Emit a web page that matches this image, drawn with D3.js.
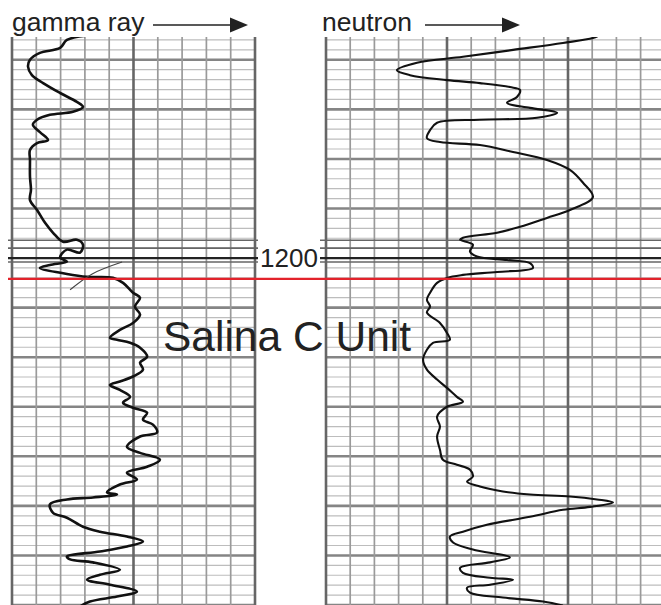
<!DOCTYPE html>
<html>
<head>
<meta charset="utf-8">
<script src="https://cdn.jsdelivr.net/npm/d3@7"></script>
<style>
  body { margin: 0; background: #fff; }
  svg { display: block; font-family: "Liberation Sans", Arial, sans-serif; }
</style>
</head>
<body>
<svg id="chart" width="661" height="605"></svg>
<script>
// depth in feet, track values in % of track width (10 divisions)
const depthRange = [1155.4, 1270];
const markerDepth = 1200;
const salinaTop = 1204.2;
const heavyDepths = [1196.4, 1198, 1200, 1200.8];

// gamma ray curve: [value, depth]
const gammaRay = [
  [33,1155.0],[22.6,1156.0],[19.8,1157.6],[11.5,1158.6],[7.4,1160.0],[6.6,1161.4],
  [8.2,1163.1],[12.8,1164.7],[19.8,1166.7],[26.7,1168.5],[29.2,1169.5],[25.1,1170.5],
  [15.6,1171.1],[10.3,1172.1],[8.6,1173.1],[11.5,1174.6],[14.8,1176.2],[10.3,1176.8],
  [7.4,1178.2],[7.4,1180.2],[7.4,1183.6],[7.8,1186.2],[7.4,1188.3],[10.3,1190.3],
  [13.6,1192.9],[16.9,1194.9],[21.0,1196.7],[26.7,1196.3],[29.2,1197.3],[28.0,1198.9],
  [22.6,1198.3],[19.8,1199.9],[22.6,1200.7],[15.6,1201.4],[11.5,1202.0],[22.6,1203.2],
  [30.9,1203.8],[41.6,1204.0],[45.7,1205.0],[49.8,1207.0],[52.7,1208.0],[50.6,1209.8],
  [52.7,1211.4],[49.8,1213.1],[44.4,1214.5],[40.3,1216.1],[43.2,1216.5],[48.6,1217.1],
  [52.7,1218.1],[55.6,1219.9],[52.7,1221.1],[53.9,1222.5],[49.8,1223.9],[44.4,1224.9],
  [40.3,1225.6],[44.4,1226.6],[48.6,1228.0],[45.7,1229.2],[49.8,1230.2],[55.6,1231.2],
  [53.9,1232.6],[58.0,1233.6],[59.7,1235.2],[52.7,1236.0],[47.3,1238.1],[52.7,1239.3],
  [60.9,1240.7],[55.6,1242.1],[47.3,1243.3],[51.4,1244.7],[44.4,1245.7],[39.1,1247.3],
  [43.2,1247.7],[33.3,1248.3],[22.6,1248.7],[15.6,1249.7],[16.9,1251.4],[22.6,1252.4],
  [29.2,1254.2],[36.2,1255.2],[47.3,1256.2],[53.9,1257.2],[47.3,1258.2],[36.2,1259.2],
  [22.6,1260.2],[23.9,1260.8],[33.3,1261.4],[44.4,1262.9],[36.2,1263.9],[30.9,1264.9],
  [40.3,1265.9],[51.4,1267.3],[43.2,1268.3],[32.1,1269.3],[28.0,1270.3]
];

// thin stray trace crossing the gamma track near 1200 ft
const gammaStray = [[45.3,1200.8],[33,1203.2],[23.9,1206.4]];

// neutron curve: [value, depth]
const neutron = [
  [113.2,1155.0],[110.3,1155.6],[97.9,1156.6],[77.3,1158.0],[56.6,1159.4],[37.6,1160.6],
  [29.3,1162.1],[34.7,1163.1],[50.0,1164.1],[63.6,1164.7],[76.0,1165.5],[80.2,1166.1],
  [78.9,1167.5],[74.8,1168.7],[84.3,1169.7],[95.5,1170.7],[87.2,1171.7],[63.6,1172.1],
  [45.9,1172.7],[43.0,1174.2],[41.7,1175.8],[47.1,1176.6],[63.6,1177.2],[77.3,1178.6],
  [91.3,1180.2],[100.8,1182.2],[106.2,1184.8],[110.3,1187.7],[100.8,1190.3],[91.3,1191.9],
  [80.2,1193.7],[70.7,1194.9],[56.6,1195.9],[55.4,1196.3],[60.7,1197.3],[59.5,1198.7],
  [62.4,1199.7],[74.8,1200.4],[84.3,1201.0],[85.5,1202.0],[70.7,1202.8],[56.6,1203.4],
  [50.0,1204.0],[45.9,1205.0],[43.0,1207.0],[41.7,1208.4],[43.0,1209.8],[41.7,1211.0],
  [47.1,1213.1],[50.0,1215.1],[51.2,1216.5],[44.2,1217.1],[41.7,1218.5],[40.1,1220.5],
  [41.7,1222.5],[45.9,1224.5],[50.0,1226.2],[54.1,1228.0],[56.6,1229.0],[50.0,1230.0],
  [45.9,1232.0],[47.1,1234.0],[45.9,1236.0],[47.1,1238.7],[48.3,1240.7],[54.1,1241.7],
  [59.5,1242.7],[60.7,1244.1],[58.3,1245.1],[63.6,1246.1],[73.1,1247.1],[84.3,1247.7],
  [100.8,1248.1],[112.0,1248.7],[118.6,1249.3],[109.1,1250.2],[97.9,1250.8],[84.3,1252.2],
  [66.5,1253.8],[56.6,1255.2],[51.2,1256.2],[52.5,1257.4],[60.7,1258.8],[76.0,1260.4],
  [67.8,1261.4],[55.4,1262.5],[56.6,1263.5],[67.8,1264.5],[77.3,1264.9],[67.8,1265.9],
  [58.3,1266.5],[59.5,1267.5],[73.1,1268.5],[89.7,1269.3],[97.9,1270.1]
];

const trackTitles = ["gamma ray", "neutron"];
const unitLabel = "Salina C Unit";

const svg = d3.select("#chart");
const y = d3.scaleLinear().domain(depthRange).range([37, 605]);
const xGamma = d3.scaleLinear().domain([0, 100]).range([12, 255]);
const xNeutron = d3.scaleLinear().domain([0, 100]).range([326, 568]);

const tracks = [
  { x: xGamma, left: 12, right: 255, ticks: d3.range(0, 101, 10), data: gammaRay, width: 2.6 },
  { x: xNeutron, left: 326, right: 661, ticks: d3.range(0, 140, 10), data: neutron, width: 2.1 }
];

const minorDepths = d3.range(1156, 1271, 2).filter(d => d % 10 !== 0);
const majorDepths = d3.range(1160, 1271, 10);

tracks.forEach((t, i) => {
  const g = svg.append("g");
  const clipId = "clip" + i;
  svg.append("clipPath").attr("id", clipId)
    .append("rect").attr("x", t.left - 1).attr("y", y(depthRange[0]))
    .attr("width", t.right - t.left + 2).attr("height", 605 - y(depthRange[0]));

  // horizontal grid
  g.selectAll(".hmin").data(minorDepths).join("line")
    .attr("x1", t.left).attr("x2", t.right)
    .attr("y1", d => y(d)).attr("y2", d => y(d))
    .attr("stroke", "#bdbdbd").attr("stroke-width", 1.2);
  g.selectAll(".hmaj").data(majorDepths.filter(d => d !== markerDepth)).join("line")
    .attr("x1", t.left).attr("x2", t.right)
    .attr("y1", d => y(d)).attr("y2", d => y(d))
    .attr("stroke", "#858585").attr("stroke-width", 2.6);

  // vertical grid
  g.selectAll(".v").data(t.ticks).join("line")
    .attr("x1", d => t.x(d)).attr("x2", d => t.x(d))
    .attr("y1", y(depthRange[0])).attr("y2", 605)
    .attr("stroke", d => d % 50 === 0 ? "#666" : "#9a9a9a")
    .attr("stroke-width", d => d % 50 === 0 ? 2.6 : 1.7);

  // heavy lines around 1200 ft
  g.selectAll(".heavy").data(heavyDepths).join("line")
    .attr("x1", i === 0 ? 8 : 320).attr("x2", i === 0 ? 258 : 661)
    .attr("y1", d => y(d)).attr("y2", d => y(d))
    .attr("stroke", d => d === markerDepth ? "#222" : "#666")
    .attr("stroke-width", d => d === markerDepth ? 2.2 : 1.6);

  const line = d3.line()
    .x(d => t.x(d[0])).y(d => y(d[1]))
    .curve(d3.curveCatmullRom.alpha(0.5));
  g.append("path").datum(t.data)
    .attr("clip-path", `url(#${clipId})`)
    .attr("d", line)
    .attr("fill", "none").attr("stroke", "#111")
    .attr("stroke-width", t.width).attr("stroke-linejoin", "round");

  if (i === 0) {
    g.append("path").datum(gammaStray)
      .attr("d", line)
      .attr("fill", "none").attr("stroke", "#444").attr("stroke-width", 1.1);
  }
});

// titles with arrows
const arrows = [
  { text: trackTitles[0], x: 12, x1: 153, x2: 248 },
  { text: trackTitles[1], x: 322, x2: 520, x1: 425 }
];
arrows.forEach(a => {
  svg.append("text").attr("x", a.x).attr("y", 31)
    .attr("font-size", 26.5).attr("fill", "#222").text(a.text);
  svg.append("line").attr("x1", a.x1).attr("x2", a.x2 - 14)
    .attr("y1", 25).attr("y2", 25).attr("stroke", "#222").attr("stroke-width", 1.6);
  svg.append("path")
    .attr("d", `M${a.x2},25 L${a.x2 - 18},17.5 L${a.x2 - 18},32.5 Z`)
    .attr("fill", "#222");
});

// depth label
svg.append("text").attr("x", 260).attr("y", y(markerDepth) + 9)
  .attr("font-size", 26).attr("fill", "#222").text(markerDepth);

// Salina C top
svg.append("line").attr("x1", 8).attr("x2", 661)
  .attr("y1", y(salinaTop)).attr("y2", y(salinaTop))
  .attr("stroke", "#e3222b").attr("stroke-width", 2.2);

svg.append("text").attr("x", 163).attr("y", 351)
  .attr("font-size", 42.5).attr("fill", "#222").text(unitLabel);
</script>
</body>
</html>
